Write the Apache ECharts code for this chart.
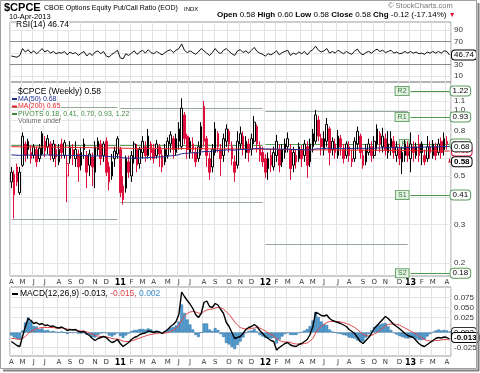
<!DOCTYPE html>
<html><head><meta charset="utf-8">
<script src="https://cdn.jsdelivr.net/npm/echarts@6/dist/echarts.min.js"></script>
<style>html,body{margin:0;padding:0;background:#fff}#c{width:480px;height:373px}</style>
</head><body><div id="c"></div>
<script>
// ---------- DATA ----------
const priceOpen = [.47,.41,.55,.42,.56,.70,.66,.64,.62,.66, .60,.63,.72,.68,.70,.60,.66,.58,.70,.62, .50,.60,.66,.60,.63,.56,.66,.62,.56,.61,
 .52,.66,.70,.62,.72,.55,.50,.60,.63,.66, .45,.44,.58,.50,.60,.66,.57,.64,.68,.62, .70,.66,.62,.68,.62,.58,.62,.70,.74,.64,
 .72,.68,.95,.76,.64,.70,.64,.60,.66,1.04, .74,.60,.55,.64,.78,.66,.62,.72,.80,.68, .58,.56,.70,.76,.64,.70,.66,.72,.84,.68,
 .64,.60,.54,.62,.55,.62,.66,.58,.64,.68, .66,.56,.62,.60,.66,.62,.68,.58,.68,.72, .90,.74,.66,.72,.82,.66,.70,.62,.74,.66,
 .62,.68,.60,.60,.70,.76,.62,.58,.64,.68, .62,.70,.78,.68,.74,.64,.68,.72,.62,.66, .58,.62,.68,.60,.68,.62,.70,.70,.62,.60,
 .68,.62,.68,.64,.72,.66,.72,.58];
const priceClose = [.52,.51,.47,.52,.76,.62,.72,.60,.68,.58, .67,.78,.65,.74,.62,.70,.61,.66,.64,.71, .57,.68,.62,.66,.55,.64,.70,.52,.63,.55,
 .68,.72,.60,.70,.52,.47,.58,.65,.74,.42, .39,.60,.52,.62,.70,.56,.66,.72,.62,.76, .64,.60,.70,.63,.55,.66,.72,.77,.66,.74,
 .82,1.02,.74,.66,.72,.66,.58,.68,.84,.72, .62,.52,.66,.82,.68,.60,.74,.82,.70,.60, .52,.72,.78,.66,.72,.64,.74,.88,.70,.62,
 .58,.52,.60,.56,.64,.72,.56,.66,.70,.74, .54,.64,.58,.68,.60,.70,.56,.70,.78,.95, .76,.68,.74,.86,.64,.72,.64,.76,.68,.60,
 .70,.62,.58,.72,.80,.64,.56,.66,.70,.62, .72,.82,.70,.76,.66,.70,.74,.64,.68,.60, .64,.70,.62,.70,.64,.68,.62,.64,.58,.68,
 .64,.70,.62,.70,.64,.74,.70,.58];
const priceLow = [.44,.32,.45,.41,.55,.58,.60,.57,.60,.55, .58,.62,.61,.63,.59,.58,.55,.56,.60,.60, .38,.57,.56,.55,.47,.53,.60,.44,.50,.45,
 .44,.62,.56,.58,.50,.43,.48,.55,.60,.40, .37,.42,.49,.47,.57,.52,.54,.60,.58,.60, .59,.57,.60,.55,.52,.56,.60,.64,.60,.62,
 .66,.66,.70,.60,.60,.60,.55,.58,.62,.68, .55,.48,.52,.62,.64,.50,.58,.68,.64,.56, .47,.54,.66,.62,.60,.58,.62,.70,.64,.58,
 .55,.49,.48,.52,.53,.58,.52,.55,.60,.64, .48,.52,.54,.58,.55,.58,.49,.55,.64,.70, .72,.62,.62,.68,.56,.62,.60,.60,.62,.57,
 .60,.58,.55,.58,.66,.60,.54,.56,.62,.58, .60,.66,.64,.64,.62,.60,.62,.60,.58,.56, .51,.58,.58,.52,.58,.60,.58,.56,.56,.58,
 .60,.60,.59,.62,.60,.62,.66,.58];
const priceHigh = [.55,.53,.57,.55,.79,.72,.74,.69,.70,.68, .70,.80,.76,.77,.72,.73,.70,.70,.74,.73, .62,.72,.70,.72,.66,.68,.74,.65,.66,.64,
 .72,.75,.73,.72,.75,.58,.63,.68,.76,.68, .50,.62,.62,.65,.72,.70,.68,.76,.72,.82, .72,.70,.73,.70,.66,.70,.75,.80,.76,.78,
 .88,1.13,.98,.78,.75,.75,.68,.72,.88,1.10, .76,.64,.70,.88,.80,.70,.78,.86,.82,.72, .62,.80,.84,.80,.76,.74,.78,.94,.86,.72,
 .68,.63,.64,.66,.68,.77,.70,.70,.74,.79, .70,.68,.66,.71,.69,.73,.72,.74,.82,1.00, .94,.78,.80,.92,.84,.75,.74,.81,.77,.70,
 .72,.72,.66,.75,.84,.78,.66,.70,.74,.72, .76,.86,.80,.83,.78,.80,.80,.76,.72,.70, .68,.73,.72,.79,.72,.71,.77,.72,.66,.76,
 .72,.73,.71,.74,.75,.79,.76,.60];
const ma50 = [.624,.623,.622,.621,.622,.622,.623,.623,.623,.622, .622,.623,.623,.624,.623,.623,.622,.622,.621,.622,
 .621,.621,.620,.620,.619,.619,.620,.619,.618,.617, .617,.618,.617,.617,.615,.613,.612,.612,.613,.609,
 .605,.605,.603,.603,.604,.603,.604,.605,.605,.607, .608,.608,.610,.611,.611,.613,.615,.618,.619,.622,
 .625,.632,.634,.635,.637,.638,.638,.640,.644,.646, .647,.646,.648,.652,.653,.653,.655,.657,.658,.657,
 .656,.658,.661,.661,.662,.662,.664,.667,.668,.667, .666,.664,.664,.663,.664,.664,.662,.663,.663,.664,
 .662,.661,.660,.660,.659,.659,.657,.658,.660,.665, .666,.666,.667,.669,.668,.668,.668,.669,.669,.668,
 .669,.668,.667,.668,.670,.670,.668,.669,.669,.668, .669,.671,.671,.672,.672,.673,.674,.673,.674,.673,
 .673,.674,.674,.675,.675,.676,.676,.677,.677,.678, .678,.679,.679,.680,.680,.681,.682,.680];
const ma200 = [.680,.680,.680,.679,.679,.679,.679,.678,.678,.678, .678,.678,.677,.677,.677,.677,.676,.676,.676,.676,
 .676,.675,.675,.675,.675,.674,.674,.674,.674,.673, .673,.673,.673,.672,.672,.671,.671,.671,.671,.670,
 .669,.669,.669,.668,.668,.668,.668,.668,.668,.668, .667,.667,.667,.667,.666,.666,.666,.666,.666,.666,
 .666,.667,.667,.667,.667,.666,.666,.666,.666,.666, .666,.665,.665,.665,.665,.665,.665,.665,.665,.664,
 .664,.664,.664,.664,.664,.664,.664,.664,.664,.663, .663,.662,.662,.662,.661,.661,.661,.660,.660,.660,
 .660,.659,.659,.659,.658,.658,.658,.657,.657,.658, .658,.658,.658,.658,.657,.657,.657,.657,.657,.656,
 .656,.656,.656,.656,.656,.656,.655,.655,.655,.655, .655,.655,.655,.655,.654,.654,.654,.654,.654,.653,
 .653,.653,.653,.653,.652,.652,.652,.652,.651,.651, .651,.651,.651,.651,.650,.650,.650,.650];
const rsiValues = [45,44,43,46,58,52,56,50,54,49, 53,58,52,55,50,53,49,51,50,53, 47,52,49,51,46,50,53,45,50,46,
 52,54,49,53,45,43,48,51,55,42, 40,49,46,50,54,48,52,55,50,56, 51,49,53,50,47,51,54,56,51,55,
 58,66,55,51,54,51,48,52,58,54, 50,46,51,58,52,49,55,58,53,49, 46,54,56,51,54,50,55,60,53,50,
 48,45,49,47,50,54,47,51,53,55, 46,50,48,52,49,53,47,53,56,62, 55,52,54,58,50,53,50,55,52,49,
 53,50,48,54,57,50,47,51,53,50, 54,57,53,55,51,53,55,50,52,49, 50,53,50,53,50,52,49,50,48,52,
 50,53,50,53,50,54,53,46.74];
const macdLine = [-0.018,-0.022,-0.026,-0.028,-0.008,0.012,0.028,0.024,0.018,0.020,
 0.016,0.018,0.014,0.015,0.012,0.013,0.010,0.009,0.011,0.008, 0.004,0.006,0.005,0.006,0.002,0.001,0.002,-0.003,-0.006,-0.012,
 -0.016,-0.012,-0.010,-0.008,-0.010,-0.016,-0.020,-0.018,-0.014,-0.022, -0.028,-0.024,-0.020,-0.014,-0.010,-0.008,-0.004,-0.002,-0.001,0.003,
 0.002,0.000,0.002,0.001,-0.002,0.002,0.006,0.012,0.016,0.022, 0.036,0.081,0.072,0.064,0.057,0.048,0.036,0.030,0.038,0.060,
 0.063,0.052,0.050,0.058,0.055,0.046,0.038,0.020,0.012,0.000, -0.012,-0.010,-0.008,-0.002,0.006,0.010,0.012,0.016,0.012,0.004,
 -0.002,-0.008,-0.012,-0.016,-0.018,-0.035,-0.030,-0.026,-0.022,-0.020, -0.025,-0.027,-0.028,-0.024,-0.022,-0.018,-0.014,-0.004,0.012,0.040,
 0.038,0.034,0.033,0.035,0.028,0.024,0.022,0.020,0.018,0.015, 0.012,0.006,0.002,-0.002,-0.010,-0.018,-0.022,-0.016,-0.010,-0.002,
 0.008,0.014,0.020,0.026,0.032,0.028,0.022,0.016,0.012,0.008, 0.003,-0.002,-0.006,-0.008,-0.010,-0.016,-0.022,-0.026,-0.028,-0.024,
 -0.020,-0.016,-0.012,-0.010,-0.011,-0.009,-0.010,-0.013];
const macdSignal = [-0.012,-0.012,-0.013,-0.014,-0.012,-0.008,-0.002,0.002,0.005,0.008,
 0.009,0.010,0.010,0.010,0.010,0.010,0.009,0.009,0.009,0.008, 0.007,0.006,0.006,0.005,0.004,0.003,0.003,0.001,-0.001,-0.003,
 -0.006,-0.007,-0.008,-0.008,-0.009,-0.010,-0.012,-0.013,-0.013,-0.015, -0.017,-0.018,-0.018,-0.017,-0.015,-0.013,-0.011,-0.009,-0.007,-0.005,
 -0.004,-0.003,-0.002,-0.001,-0.001,-0.001,0.000,0.002,0.005,0.008, 0.014,0.025,0.033,0.038,0.041,0.042,0.041,0.039,0.038,0.042,
 0.045,0.046,0.047,0.049,0.050,0.049,0.047,0.041,0.036,0.029, 0.021,0.015,0.010,0.008,0.007,0.007,0.008,0.009,0.010,0.009,
 0.006,0.003,-0.001,-0.004,-0.007,-0.013,-0.016,-0.018,-0.019,-0.019, -0.020,-0.022,-0.023,-0.023,-0.023,-0.022,-0.021,-0.017,-0.012,-0.001,
 0.007,0.012,0.016,0.020,0.022,0.022,0.022,0.022,0.021,0.020, 0.018,0.016,0.013,0.010,0.006,0.001,-0.004,-0.006,-0.007,-0.006,
 -0.003,0.000,0.004,0.008,0.013,0.016,0.017,0.017,0.016,0.015, 0.012,0.009,0.006,0.003,0.000,-0.003,-0.007,-0.011,-0.014,-0.016,
 -0.017,-0.017,-0.016,-0.016,-0.015,-0.014,-0.014,-0.015];
const macdHist = [-0.006,-0.010,-0.013,-0.014,0.004,0.020,0.030,0.022,0.013,0.012,
 0.007,0.008,0.004,0.005,0.002,0.003,0.001,0.000,0.002,0.000, -0.003,0.000,-0.001,0.001,-0.002,-0.002,-0.001,-0.004,-0.005,-0.009,
 -0.010,-0.005,-0.002,0.000,-0.001,-0.006,-0.008,-0.005,-0.001,-0.007, -0.011,-0.006,-0.002,0.003,0.005,0.005,0.007,0.007,0.006,0.008,
 0.006,0.003,0.004,0.002,-0.001,0.003,0.006,0.010,0.011,0.014, 0.022,0.056,0.039,0.026,0.016,0.006,-0.005,-0.009,0.000,0.018,
 0.018,0.006,0.003,0.009,0.005,-0.003,-0.009,-0.021,-0.024,-0.029, -0.033,-0.025,-0.018,-0.010,-0.001,0.003,0.004,0.007,0.002,-0.005,
 -0.008,-0.011,-0.011,-0.012,-0.011,-0.022,-0.014,-0.008,-0.003,-0.001, -0.005,-0.005,-0.005,-0.001,0.001,0.004,0.007,0.013,0.024,0.041,
 0.031,0.022,0.017,0.015,0.006,0.002,0.000,-0.002,-0.003,-0.005, -0.006,-0.010,-0.011,-0.012,-0.016,-0.019,-0.018,-0.010,-0.003,0.004,
 0.011,0.014,0.016,0.018,0.019,0.012,0.005,-0.001,-0.004,-0.007, -0.009,-0.011,-0.012,-0.011,-0.010,-0.013,-0.015,-0.015,-0.014,-0.008,
 -0.003,0.001,0.004,0.006,0.004,0.005,0.004,0.002];
// annual pivot levels (one entry per year)
const pivotYears = [2010, 2011, 2012, 2013];
const pivotR2 = [null, null, null, 1.22];
const pivotR1 = [1.03, 1.02, 0.99, 0.93];
const pivotP  = [0.69, 0.69, 0.70, 0.70];
const pivotS1 = [0.318, 0.38, 0.245, 0.41];
const pivotS2 = [null, null, null, 0.18];
// tick values
const priceGridValues = [0.2,0.3,0.4,0.5,0.6,0.7,0.8,0.9,1.0,1.1,1.2];
const priceAxisLabelValues = [1.1,1.0,0.8,0.5,0.3,0.2];
const rsiGridValues = [10,30,50,70,90];
const rsiBandValues = [30,70];
const rsiAxisLabelValues = [10,30,70,90];
const macdGridValues = [-0.025,0,0.025,0.05,0.075];
const macdAxisLabelValues = [-0.025,0.025,0.05,0.075];
const monthLetters = ['J','F','M','A','M','J','J','A','S','O','N','D'];

// weekly categories (Friday of each week)
const weekDates = [];
for (let i = 0; i < priceClose.length; i++) {
  weekDates.push(new Date(Date.UTC(2010, 3, 9) + i * 7 * 86400000).toISOString().slice(0, 10));
}
const monthStart = weekDates.map((d, i) => i === 0 || d.slice(5, 7) !== weekDates[i - 1].slice(5, 7));
const last = weekDates.length - 1;

// ---------- STYLE ----------
const LB = '"Liberation Sans", Arial, sans-serif';
const DV = '"DejaVu Sans", Verdana, sans-serif';
const RED = '#e0103c';
const BLACK = '#000';

function makeX(gi, showLabel) {
  return {
    type: 'category', gridIndex: gi, data: weekDates, boundaryGap: true,
    axisLine: {show: false}, axisTick: {show: false},
    axisLabel: {
      show: showLabel, interval: (i) => monthStart[i], margin: 3, fontSize: 7, color: '#333', fontFamily: DV,
      formatter: (v) => { const m = +v.slice(5, 7); return m === 1 ? '{y|' + v.slice(2, 4) + '}' : monthLetters[m - 1]; },
      rich: {y: {fontSize: 8, fontWeight: 'bold', color: '#000', fontFamily: DV}}
    },
    splitLine: {show: true, interval: (i) => monthStart[i], lineStyle: {color: '#e2e2e2', width: 1}}
  };
}
function axisLbl(text) {
  return {show: true, position: 'end', distance: 3, formatter: text, fontSize: 8, color: '#333', fontFamily: LB};
}
function tagLbl(text, border, color, bold) {
  return {show: true, position: 'end', distance: 1, formatter: text, fontSize: 8, fontFamily: LB,
    color: color, fontWeight: bold ? 'bold' : 'normal', backgroundColor: '#fff',
    borderColor: border, borderWidth: 1, borderRadius: 3, padding: [1, 2, 0, 2]};
}
function nameLbl(text) {
  return {show: true, position: 'start', distance: 2, formatter: text, fontSize: 7, fontFamily: LB,
    color: '#2f7a2f', backgroundColor: '#e4f1e4', borderColor: '#6aa66a', borderWidth: 1, padding: [1, 2, 0, 2]};
}
const HIDE = 'rgba(0,0,0,0)';

// candles: black if close >= previous close, red otherwise; hollow if close > open
const candleData = priceOpen.map((o, i) => {
  const c = priceClose[i];
  const prev = i > 0 ? priceClose[i - 1] : o;
  const col = c >= prev ? BLACK : RED;
  const fill = c > o ? '#fff' : col;
  return {value: [o, c, priceLow[i], priceHigh[i]],
    itemStyle: {color: fill, color0: fill, borderColor: col, borderColor0: col}};
});

// pivot segments per year
const pivotNames = ['R2', 'R1', 'P', 'S1', 'S2'];
const pivotSets = [pivotR2, pivotR1, pivotP, pivotS1, pivotS2];
const pivotItems = [];
pivotYears.forEach((yr, k) => {
  const idx = weekDates.map((d, i) => (+d.slice(0, 4) === yr ? i : -1)).filter(i => i >= 0);
  const s = weekDates[idx[0]], e = weekDates[idx[idx.length - 1]];
  const current = k === pivotYears.length - 1;
  pivotSets.forEach((arr, j) => {
    const v = arr[k];
    if (v == null) return;
    const col = current ? '#4e9a4e' : (pivotNames[j] === 'P' ? '#5aa05a' : '#98a898');
    pivotItems.push([{coord: [s, v], lineStyle: {color: col, width: 1, type: 'solid'},
      label: current ? nameLbl(pivotNames[j]) : {show: false}}, {coord: [e, v]}]);
    if (current) {
      pivotItems.push([{coord: [s, v], lineStyle: {color: HIDE}, label: tagLbl(v.toFixed(2), '#5a9a5a', '#000')}, {coord: [e, v]}]);
    }
  });
});
const maTagItems = [
  {yAxis: ma200[last], lineStyle: {color: HIDE}, label: tagLbl(ma200[last].toFixed(2), RED, RED)},
  {yAxis: ma50[last], lineStyle: {color: HIDE}, label: tagLbl(ma50[last].toFixed(2), '#333', '#000')},
  {yAxis: priceClose[last], lineStyle: {color: HIDE}, label: tagLbl(priceClose[last].toFixed(2), '#000', '#000', true)}
];

const lastClose = priceClose[last], prevClose = priceClose[last - 1];
const chg = lastClose - prevClose, pct = chg / prevClose * 100;
const pivotText = [pivotS2[3], pivotS1[3], pivotP[3], pivotR1[3], pivotR2[3]].map(v => v.toFixed(2)).join(', ');

function gText(x, y, text, font, fill, extra) {
  return {type: 'text', x: x, y: y, z: 50, silent: true,
    style: Object.assign({text: text, font: font, fill: fill, align: 'left', verticalAlign: 'middle',
      textAlign: 'left', textVerticalAlign: 'middle'}, extra || {})};
}
function gLine(x1, y, x2, color, w) {
  return {type: 'line', z: 50, silent: true, shape: {x1: x1, y1: y, x2: x2, y2: y}, style: {stroke: color, lineWidth: w || 2}};
}

const option = {
  animation: false,
  backgroundColor: '#ffffff',
  grid: [
    {left: 10, right: 29, top: 22, height: 60, show: true, borderColor: '#9a9a9a', borderWidth: 1},
    {left: 10, right: 29, top: 82, height: 194, show: true, borderColor: '#9a9a9a', borderWidth: 1},
    {left: 10, right: 29, top: 287, height: 69, show: true, borderColor: '#9a9a9a', borderWidth: 1}
  ],
  xAxis: [makeX(0, false), makeX(1, true), makeX(2, true)],
  yAxis: [
    {type: 'value', gridIndex: 0, min: 0, max: 104, show: false},
    {type: 'log', gridIndex: 1, logBase: 10, min: 0.1749, max: 1.342, show: false},
    {type: 'value', gridIndex: 2, min: -0.047, max: 0.091, show: false}
  ],
  series: [
    {name: 'RSI(14)', type: 'line', xAxisIndex: 0, yAxisIndex: 0, data: rsiValues, symbol: 'none', z: 4,
      lineStyle: {color: '#111', width: 1},
      markLine: {silent: true, symbol: 'none', z: 1, animation: false,
        data: rsiGridValues.map(v => ({yAxis: v,
          lineStyle: {type: 'solid', width: 1, color: rsiBandValues.includes(v) ? '#8a8a8a' : '#e6e6e6'},
          label: rsiAxisLabelValues.includes(v) ? axisLbl(String(v)) : {show: false}}))
          .concat([{yAxis: rsiValues[last], lineStyle: {color: HIDE}, label: tagLbl(rsiValues[last].toFixed(2), '#000', '#000')}])}
    },
    {name: '$CPCE', type: 'candlestick', xAxisIndex: 1, yAxisIndex: 1, data: candleData, z: 3,
      barWidth: '75%', itemStyle: {borderWidth: 1}},
    {name: 'MA(200)', type: 'line', xAxisIndex: 1, yAxisIndex: 1, data: ma200, symbol: 'none', z: 4,
      lineStyle: {color: '#e8252c', width: 1},
      markLine: {silent: true, symbol: 'none', z: 1, animation: false,
        data: priceGridValues.map(v => ({yAxis: v, lineStyle: {type: 'solid', width: 1, color: '#e6e6e6'},
          label: priceAxisLabelValues.includes(v) ? axisLbl(v.toFixed(1)) : {show: false}}))}
    },
    {name: 'MA(50)', type: 'line', xAxisIndex: 1, yAxisIndex: 1, data: ma50, symbol: 'none', z: 5,
      lineStyle: {color: '#1f2f8f', width: 1},
      markLine: {silent: true, symbol: 'none', z: 2, animation: false, data: pivotItems.concat(maTagItems)}
    },
    {name: 'MACD Hist', type: 'bar', xAxisIndex: 2, yAxisIndex: 2, data: macdHist, barWidth: '100%', z: 2,
      itemStyle: {color: '#4f9fd6', borderColor: '#2b6c9c', borderWidth: 0.5},
      markLine: {silent: true, symbol: 'none', z: 1, animation: false,
        data: macdGridValues.map(v => ({yAxis: v, lineStyle: {type: 'solid', width: 1, color: '#e6e6e6'},
          label: macdAxisLabelValues.includes(v) ? axisLbl(v.toFixed(3)) : {show: false}}))
          .concat([
            {yAxis: macdHist[last], lineStyle: {color: HIDE}, label: tagLbl(macdHist[last].toFixed(3), '#333', '#000')},
            {yAxis: macdLine[last], lineStyle: {color: HIDE}, label: tagLbl(macdLine[last].toFixed(3), '#000', '#000', true)}
          ])}
    },
    {name: 'Signal', type: 'line', xAxisIndex: 2, yAxisIndex: 2, data: macdSignal, symbol: 'none', z: 4,
      lineStyle: {color: '#e0474c', width: 1}},
    {name: 'MACD', type: 'line', xAxisIndex: 2, yAxisIndex: 2, data: macdLine, symbol: 'none', z: 5,
      lineStyle: {color: '#000', width: 1.4}}
  ],
  graphic: [
    {type: 'rect', z: 60, silent: true, shape: {x: 0.5, y: 0.5, width: 476, height: 368}, style: {fill: 'none', stroke: '#a0a0a0', lineWidth: 1}},
    {type: 'line', z: 60, silent: true, shape: {x1: 3, y1: 370.5, x2: 479, y2: 370.5}, style: {stroke: '#808080', lineWidth: 2}},
    {type: 'line', z: 60, silent: true, shape: {x1: 478.5, y1: 3, x2: 478.5, y2: 371}, style: {stroke: '#808080', lineWidth: 2}},
    gText(4, 8, '$CPCE', 'bold 11px ' + LB, '#000'),
    gText(44, 8.5, 'CBOE Options Equity Put/Call Ratio (EOD)', '7px ' + LB, '#000'),
    gText(184, 9, 'INDX', '6px ' + LB, '#000'),
    gText(9, 16.5, '10-Apr-2013', '7.5px ' + LB, '#000'),
    gText(388, 5.5, '\u00a9 StockCharts.com', '7.5px ' + LB, '#777'),
    gText(217, 15, '{b|Open} ' + priceOpen[last].toFixed(2) + ' {b|High} ' + priceHigh[last].toFixed(2) +
      ' {b|Low} ' + priceLow[last].toFixed(2) + ' {b|Close} ' + lastClose.toFixed(2) +
      ' {b|Chg} ' + chg.toFixed(2) + ' (' + pct.toFixed(2) + '%) {r|\u25BC}', '8px ' + LB, '#000',
      {rich: {b: {font: 'bold 8px ' + LB, fill: '#000'}, r: {font: '7px ' + LB, fill: RED}}}),
    gText(16, 25, 'RSI(14) ' + rsiValues[last].toFixed(2), '8.5px ' + LB, '#000', {backgroundColor: '#fff'}),
    gText(18, 91.5, '$CPCE (Weekly) ' + lastClose.toFixed(2), '8.5px ' + LB, '#000', {backgroundColor: '#fff'}),
    gLine(12, 99, 17, '#1f2f8f'),
    gText(18, 99, 'MA(50) ' + ma50[last].toFixed(2), '7px ' + LB, '#1f2f8f', {backgroundColor: '#fff'}),
    gLine(12, 106.5, 17, '#e8252c'),
    gText(18, 106.5, 'MA(200) ' + ma200[last].toFixed(2), '7px ' + LB, '#e8252c', {backgroundColor: '#fff'}),
    gLine(12, 114, 17, '#3c8a3c'),
    gText(18, 114, 'PIVOTS ' + pivotText, '7px ' + LB, '#3c8a3c', {backgroundColor: '#fff'}),
    gText(18, 121.5, 'Volume undef', '7px ' + LB, '#666', {backgroundColor: '#fff'}),
    gLine(12, 294, 18, '#000'),
    gText(20, 294, '{k|MACD(12,26,9) ' + macdLine[last].toFixed(3) + ',} {r|' + macdSignal[last].toFixed(3) + ',} {c|' + macdHist[last].toFixed(3) + '}',
      '8.5px ' + LB, '#000', {rich: {k: {fill: '#000', font: '8.5px ' + LB}, r: {fill: '#e0474c', font: '8.5px ' + LB}, c: {fill: '#3a8fd0', font: '8.5px ' + LB}}})
  ]
};
const chart = echarts.init(document.getElementById('c'), null, {renderer: 'canvas', width: 480, height: 373});
chart.setOption(option);
</script></body></html>
